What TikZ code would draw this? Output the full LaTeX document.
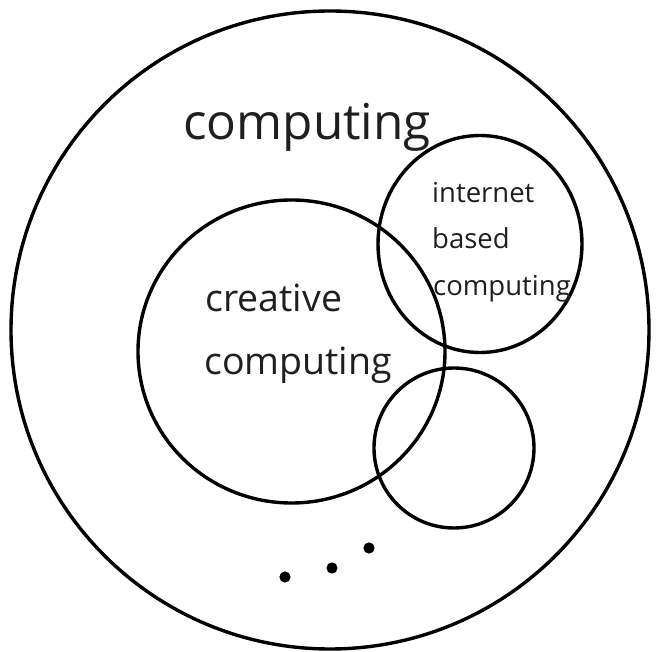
\documentclass[tikz,border=0pt]{standalone}
\usepackage{fontspec}
\setmainfont{Open Sans}
\begin{document}
\begin{tikzpicture}[x=1pt,y=-1pt,
  ring/.style={draw=black, line width=3.4pt},
  dot/.style={fill=black},
  lbl/.style={inner sep=0pt, anchor=base west, text=black!88}]
\useasboundingbox (0,0) rectangle (657,652);
% nested sets
\draw[ring] (330,330) ellipse [x radius=319, y radius=319];
\draw[ring] (291.5,351.5) ellipse [x radius=153.5, y radius=151.5];
\draw[ring] (480,244) ellipse [x radius=102, y radius=108.5];
\draw[ring] (454,448) ellipse [x radius=80, y radius=80];
% ellipsis dots
\fill[dot] (285,577) circle [radius=5.6];
\fill[dot] (332,568) circle [radius=5.6];
\fill[dot] (369,548) circle [radius=5.6];
% labels
\node[lbl, font=\fontsize{49.5}{49.5}\selectfont] (outer) at (183,140) {computing};
\node[lbl, font=\fontsize{37.5}{37.5}\selectfont] (cre1) at (205,312) {creative};
\node[lbl, font=\fontsize{37.5}{37.5}\selectfont] (cre2) at (204,375) {computing};
\node[lbl, font=\fontsize{27.5}{27.5}\selectfont] (int1) at (432,203) {internet};
\node[lbl, font=\fontsize{27.5}{27.5}\selectfont] (int2) at (432,249) {based};
\node[lbl, font=\fontsize{27.5}{27.5}\selectfont] (int3) at (433,296) {computing};
\end{tikzpicture}
\end{document}
